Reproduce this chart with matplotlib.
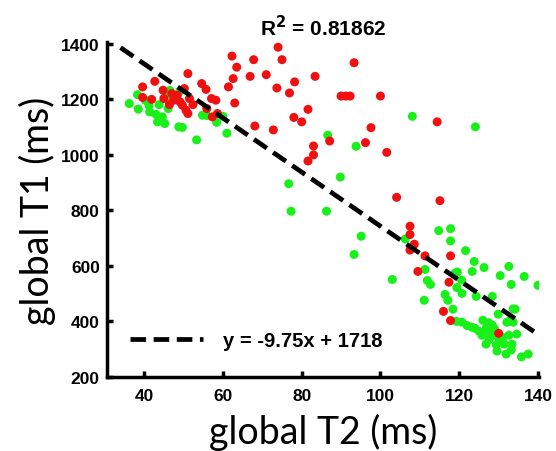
import matplotlib
matplotlib.use("Agg")
import matplotlib.pyplot as plt

# global T2 / T1 values (ms)
red_t2 = [39.6, 39.6, 41.9, 42.7, 44.8, 45.0, 47.0, 46.4, 47.5, 48.4,
          49.1, 50.2, 51.1, 49.7, 50.6, 51.5, 52.4, 51.1, 54.6, 55.7,
          57.1, 58.2, 55.9, 57.3, 58.6, 61.4, 62.3, 62.6, 63.5, 63.0,
          66.9, 67.8, 68.1, 71.0, 72.8, 74.0, 73.7, 75.0, 76.9, 78.2,
          78.0, 80.0, 81.6, 83.4, 83.0, 83.0, 81.6, 87.1, 93.3, 90.0,
          91.2, 92.3, 100.0, 97.6, 96.2, 101.6, 104.1, 115.1, 114.4, 107.5,
          107.5, 108.6, 107.5, 111.3, 109.5, 117.8, 117.4, 116.0, 117.8, 130.0]
red_t1 = [1245, 1207, 1200, 1265, 1233, 1203, 1221, 1181, 1197, 1215,
          1191, 1239, 1293, 1179, 1161, 1203, 1181, 1149, 1257, 1236,
          1203, 1197, 1167, 1137, 1149, 1245, 1356, 1275, 1316, 1187,
          1283, 1343, 1104, 1289, 1090, 1388, 1241, 1343, 1223, 1263,
          1135, 1119, 1164, 1283, 1032, 1000, 978, 1050, 1332, 1212,
          1212, 1212, 1212, 1098, 1044, 1009, 847, 835, 1119, 743,
          713, 678, 657, 636, 580, 636, 541, 436, 403, 357]

green_t2 = [36.2, 38.5, 38.3, 40.3, 41.4, 43.0, 43.4, 43.8, 44.6, 45.2,
            45.7, 46.1, 48.8, 49.7, 53.3, 54.8, 58.4, 61.0, 41.2, 44.0,
            46.5, 49.0, 55.9, 60.0, 76.7, 77.3, 86.3, 86.6, 89.8, 93.8,
            95.1, 93.3, 103.0, 108.1, 124.1, 106.3, 114.8, 117.8, 117.8, 121.6,
            123.8, 123.3, 126.3, 132.6, 130.4, 136.5, 133.2, 140.0, 111.3, 111.9,
            112.7, 118.9, 119.4, 120.7, 116.4, 117.1, 118.4, 111.1, 124.3, 128.4,
            134.2, 129.9, 120.7, 123.2, 126.0, 126.8, 128.4, 132.1, 133.7, 125.8,
            127.6, 128.9, 130.9, 132.6, 134.6, 126.8, 129.4, 131.4, 133.4, 133.2,
            129.6, 135.8, 137.5, 131.9, 127.0, 128.0, 129.0, 130.0, 126.0, 131.0,
            128.0, 124.0, 122.0, 119.3, 132.8, 133.7, 119.5, 120.6, 125.0, 127.5]
green_t1 = [1185, 1165, 1217, 1197, 1155, 1146, 1119, 1181, 1137, 1113,
            1209, 1167, 1101, 1099, 1054, 1143, 1117, 1078, 1178, 1128,
            1232, 1228, 1142, 1139, 896, 797, 797, 1071, 920, 1031,
            707, 641, 551, 1139, 1101, 697, 727, 734, 690, 655,
            616, 580, 594, 598, 565, 562, 533, 530, 587, 547,
            533, 573, 522, 501, 497, 476, 444, 476, 490, 490,
            444, 426, 397, 379, 404, 372, 386, 397, 397, 350,
            336, 354, 343, 350, 354, 318, 315, 318, 318, 297,
            293, 272, 282, 282, 380, 365, 372, 340, 360, 330,
            345, 375, 385, 400, 402, 445, 578, 549, 365, 395]

slope = -9.75
intercept = 1718
fit_x = [34, 140]
r2_text = "R$^\\mathbf{2}$ = 0.81862"

fig = plt.figure(figsize=(5.56, 4.52), dpi=100)
ax = fig.add_axes([0.192, 0.164, 0.777, 0.741])

ax.scatter(green_t2, green_t1, s=42, color="#19f019", edgecolors="none", zorder=2)
ax.scatter(red_t2, red_t1, s=42, color="#f01010", edgecolors="none", zorder=3)

fit_y = [slope * x + intercept for x in fit_x]
ax.plot(fit_x, fit_y, color="black", lw=3.4, dashes=(3.3, 1.6), zorder=4,
        label="y = -9.75x + 1718")

ax.set_xlim(30.5, 140.2)
ax.set_ylim(200, 1407)
ax.set_xticks([40, 60, 80, 100, 120, 140])
ax.set_yticks([200, 400, 600, 800, 1000, 1200, 1400])

for side in ["top", "right"]:
    ax.spines[side].set_visible(False)
for side in ["left", "bottom"]:
    ax.spines[side].set_linewidth(2.5)
ax.tick_params(direction="in", length=4, width=2.5, pad=5)
ax.tick_params(axis="x", pad=8)
for lab in ax.get_xticklabels() + ax.get_yticklabels():
    lab.set_family("Liberation Sans")
    lab.set_fontweight("bold")
    lab.set_fontsize(12.5)

ax.set_xlabel("global T2 (ms)", family="Lato", fontsize=27, labelpad=7)
ax.set_ylabel("global T1 (ms)", family="Lato", fontsize=27, labelpad=4)
ax.set_title(r2_text, family="Liberation Sans", fontweight="bold", fontsize=15, pad=5)

leg = ax.legend(loc="lower left", frameon=False, handlelength=3.6, handletextpad=1.0,
                bbox_to_anchor=(0.012, 0.025),
                prop={"family": "Liberation Sans", "weight": "bold", "size": 14.5})

fig.savefig("out.png", dpi=100)
